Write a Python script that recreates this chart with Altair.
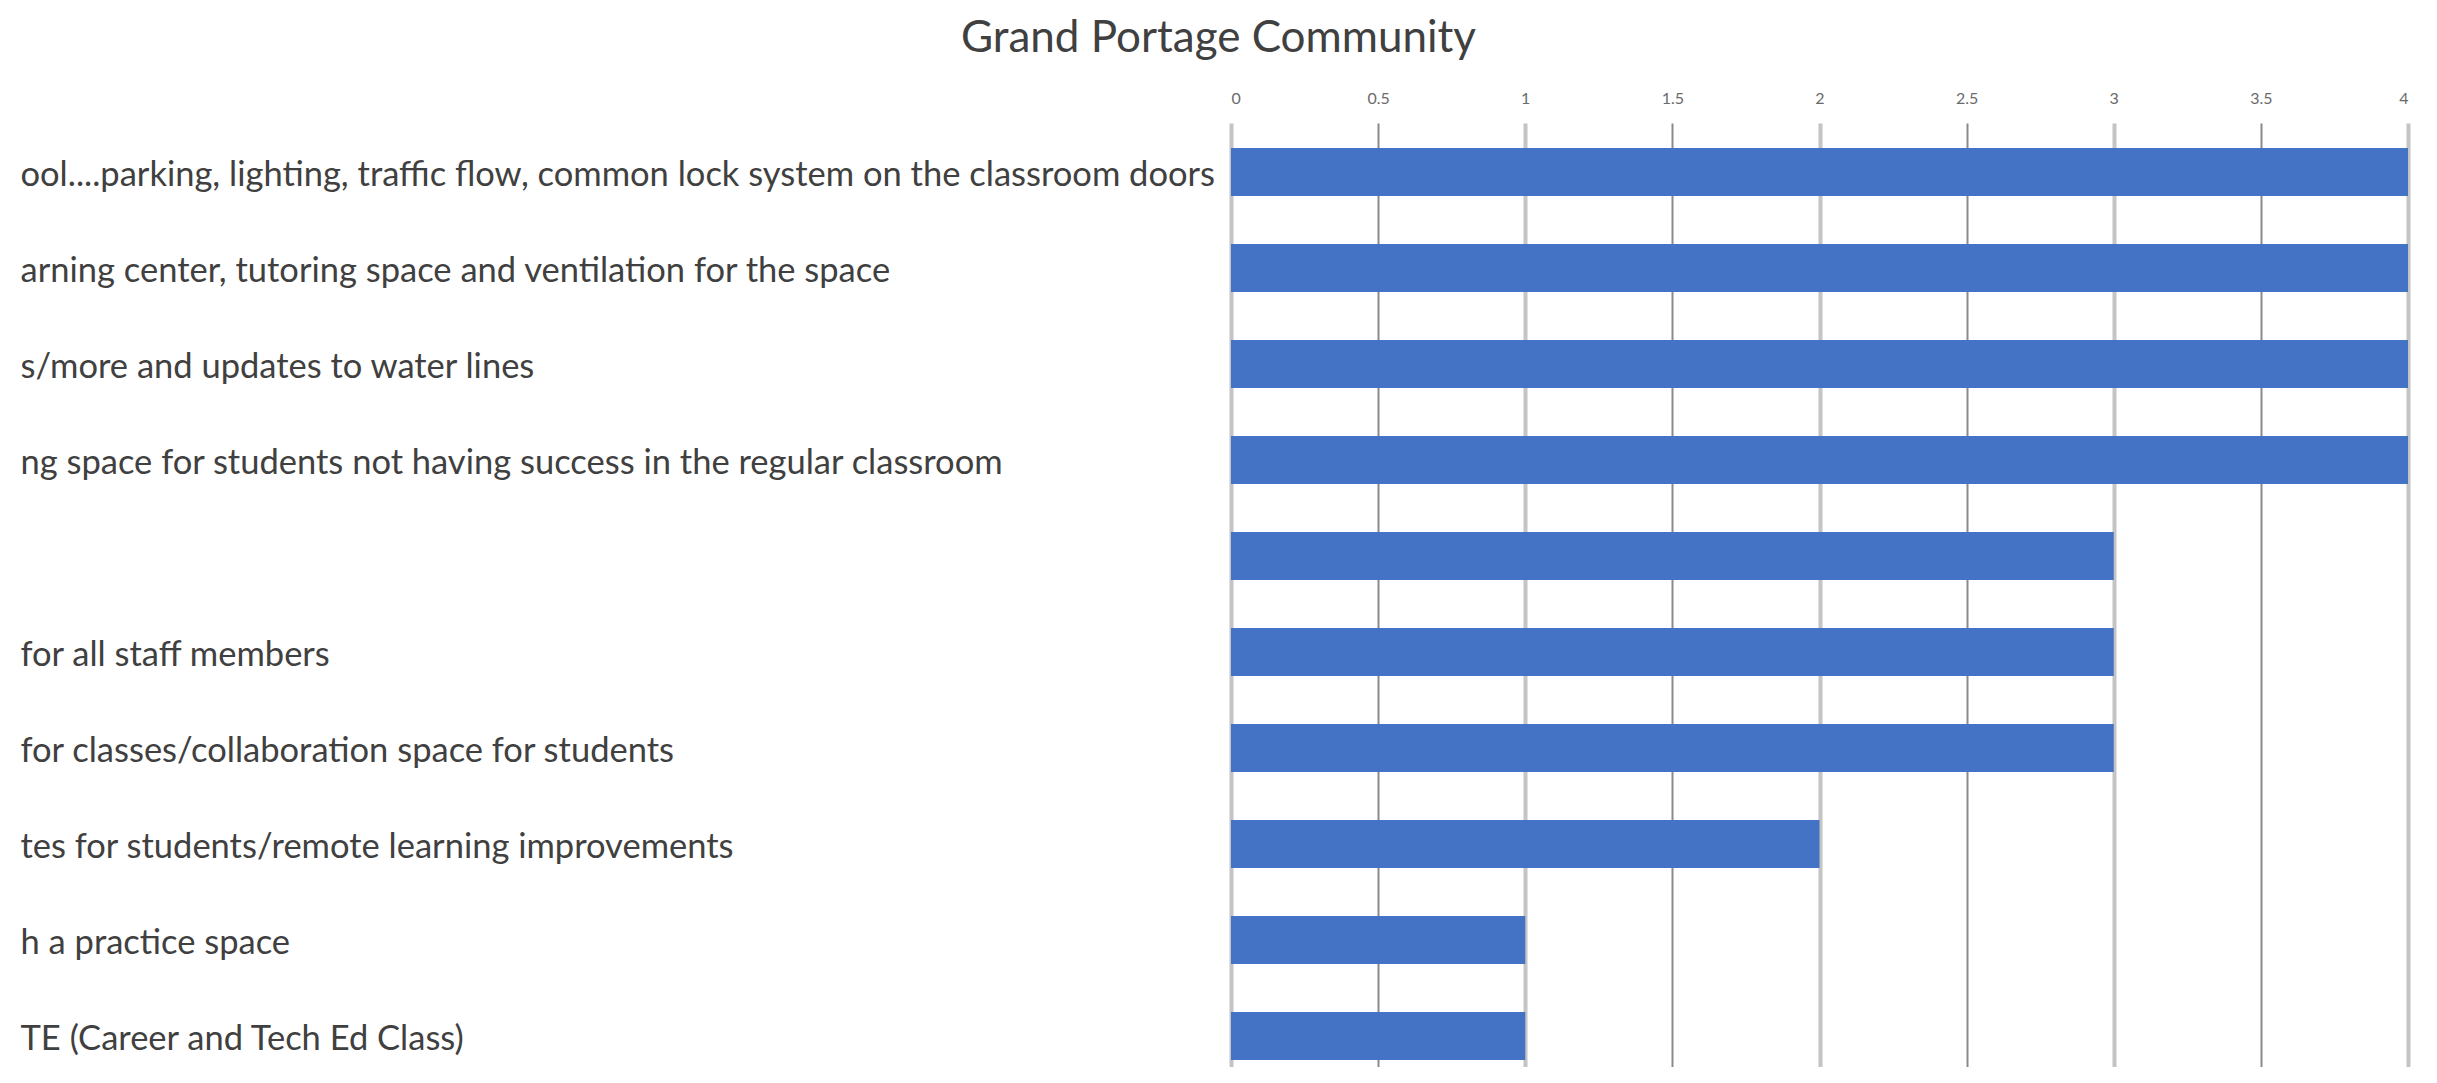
import altair as alt
import pandas as pd

categories = [
    "ool....parking, lighting, traffic flow, common lock system on the classroom doors",
    "arning center, tutoring space and ventilation for the space",
    "s/more and updates to water lines",
    "ng space for students not having success in the regular classroom",
    " ",
    "for all staff members",
    "\u00a0for classes/collaboration space for students",
    "tes for students/remote learning improvements",
    "h a practice space",
    "TE (Career and Tech Ed Class)",
]
values = [4, 4, 4, 4, 3, 3, 3, 2, 1, 1]
x_ticks = [0, 0.5, 1, 1.5, 2, 2.5, 3, 3.5, 4]
title_text = "Grand Portage Community"

df = pd.DataFrame({"label": categories, "value": values})

chart = (
    alt.Chart(df)
    .mark_bar(color="#4472C4")
    .encode(
        x=alt.X(
            "value:Q",
            scale=alt.Scale(domain=[0, 4], nice=False),
            axis=alt.Axis(
                orient="top",
                values=x_ticks,
                format="~g",
                title=None,
                domain=False,
                ticks=False,
                tickSize=0,
                labelPadding=17,
                labelFont="Lato",
                labelFontSize=16,
                labelColor="#6a6a6a",
                grid=True,
                gridColor={"condition": {"test": "datum.value % 1 === 0", "value": "#c4c4c4"}, "value": "#8a8a8a"},
                gridWidth={"condition": {"test": "datum.value % 1 === 0", "value": 4}, "value": 2},
            ),
        ),
        y=alt.Y(
            "label:N",
            sort=None,
            scale=alt.Scale(paddingInner=0.5, paddingOuter=0.1667, align=0.78),
            axis=alt.Axis(
                title=None,
                domain=False,
                ticks=False,
                tickSize=0,
                grid=False,
                labelAlign="left",
                labelPadding=1211,
                labelLimit=1500,
                labelOffset=4,
                labelFont="Lato",
                labelFontSize=34.5,
                labelColor="#404040",
            ),
        ),
    )
    .properties(
        width=1177,
        height=944,
        title=alt.TitleParams(
            title_text,
            font="Lato",
            fontSize=44,
            fontWeight="normal",
            color="#404040",
            anchor="middle",
            frame="group",
            dx=-601,
            offset=29,
        ),
        autosize=alt.AutoSizeParams(type="none"),
        padding={"left": 1223, "top": 115, "right": 20, "bottom": 0},
    )
    .configure_view(stroke=None)
)

chart.save("out.html", embed_options={"renderer": "svg", "actions": False})
